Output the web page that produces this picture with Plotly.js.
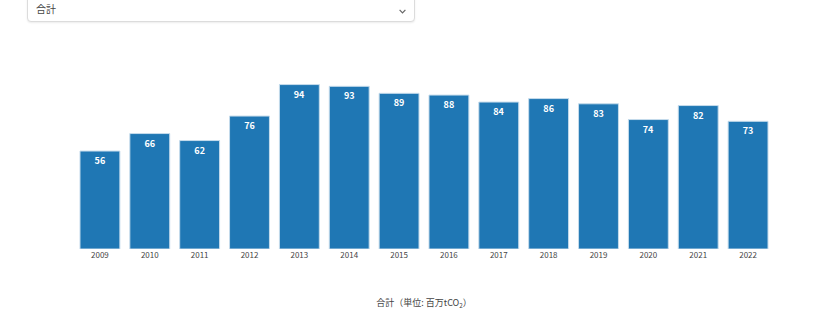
<!DOCTYPE html>
<html>
<head>
<meta charset="utf-8">
<script src="https://cdn.plot.ly/plotly-3.0.1.min.js"></script>
<style>
  html, body { margin: 0; padding: 0; background: #fff; width: 821px; height: 318px; overflow: hidden; }
  #sel {
    position: absolute; left: 27px; top: -6px; width: 388px; height: 28px;
    border: 1px solid #dcdcdc; border-radius: 4px; box-shadow: 0 1px 2px rgba(0,0,0,0.08);
    background: #fff; font-family: "Noto Sans CJK JP", sans-serif; font-size: 10px; color: #444;
    box-sizing: border-box;
  }
  #sel .lbl { position: absolute; left: 8px; top: 8px; line-height: 12px; }
  #sel svg { position: absolute; right: 8px; top: 14px; }
  #chart { position: absolute; left: 0; top: 0; width: 821px; height: 318px; }
</style>
</head>
<body>
<div id="chart"></div>
<div id="sel"><span class="lbl">合計</span><svg width="7" height="5" viewBox="0 0 7 5"><polyline points="0.6,0.8 3.5,3.8 6.4,0.8" fill="none" stroke="#666" stroke-width="1.2"/></svg></div>
<script>
const years = ["2009","2010","2011","2012","2013","2014","2015","2016","2017","2018","2019","2020","2021","2022"];
const totals = [56, 66, 62, 76, 94, 93, 89, 88, 84, 86, 83, 74, 82, 73];
const xTitle = "合計（単位: 百万tCO<sub>2</sub>）";

Plotly.newPlot("chart", [{
  type: "bar",
  x: years,
  y: totals,
  text: totals.map(v => "<b>" + v + "</b>"),
  textposition: "inside",
  insidetextanchor: "end",
  textangle: 0,
  textfont: { color: "#ffffff", size: 9, family: "Noto Sans CJK JP, sans-serif" },
  marker: { color: "#1f77b4", line: { color: "#c6dcec", width: 1 } },
  hoverinfo: "none"
}], {
  width: 821, height: 318,
  margin: { l: 75, r: 48, t: 76, b: 69 },
  paper_bgcolor: "#ffffff", plot_bgcolor: "#ffffff",
  bargap: 0.2,
  font: { family: "Noto Sans CJK JP, sans-serif", color: "#444", size: 9 },
  xaxis: {
    type: "category",
    showgrid: false, zeroline: false, showline: false, ticks: "",
    tickfont: { size: 8, color: "#444" },
    title: { text: xTitle, font: { size: 9, color: "#444" }, standoff: 40 }
  },
  yaxis: {
    showgrid: false, zeroline: false, showline: false, showticklabels: false, ticks: "",
    range: [0, 98.9]
  },
  showlegend: false
}, { displayModeBar: false, staticPlot: true });
</script>
</body>
</html>
